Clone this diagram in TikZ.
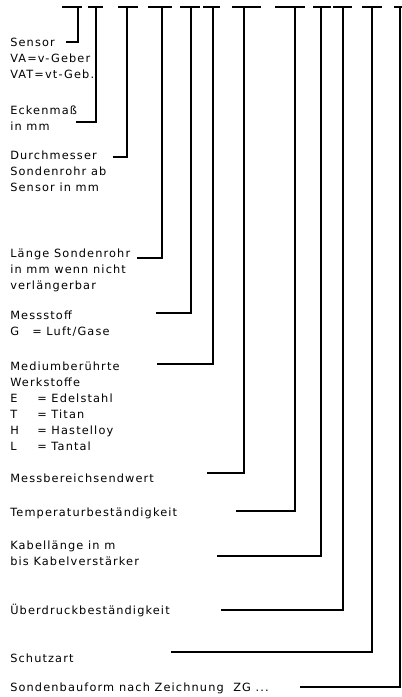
\documentclass[tikz,border=0pt]{standalone}
\usepackage{fontspec}
\setmainfont{DejaVu Sans}
\newfontfamily\lblfont[LetterSpace=10]{DejaVu Sans}
\begin{document}
\begin{tikzpicture}[x=0.75pt,y=-0.75pt,
  lbl/.style={anchor=base west,align=left,inner sep=0pt,font=\lblfont\fontsize{8.5}{12}\selectfont},
  lead/.style={line width=1.4pt}]
\useasboundingbox (0,0) rectangle (402,697);
\def\kw{\makebox[20.25pt][l]}
% labels (placed at the baseline of their last line)
\node[lbl] (sensor) at (10,78) {Sensor\\VA=v-Geber\\VAT=vt-Geb.};
\node[lbl] (ecke) at (10,130) {Eckenmaß\\in mm};
\node[lbl] (durchm) at (10,191) {Durchmesser\\Sondenrohr ab\\Sensor in mm};
\node[lbl] (laenge) at (10,289) {Länge Sondenrohr\\in mm wenn nicht\\verlängerbar};
\node[lbl] (stoff) at (10,335) {Messstoff\\\makebox[16.5pt][l]{G}= Luft/Gase};
\node[lbl] (werk) at (10,450) {Mediumberührte\\Werkstoffe\\\kw{E}= Edelstahl\\\kw{T}= Titan\\\kw{H}= Hastelloy\\\kw{L}= Tantal};
\node[lbl] (bereich) at (10,482) {Messbereichsendwert};
\node[lbl] (temp) at (10,516) {Temperaturbeständigkeit};
\node[lbl] (kabel) at (10,565) {Kabellänge in m\\bis Kabelverstärker};
\node[lbl] (druck) at (10,614) {Überdruckbeständigkeit};
\node[lbl] (schutz) at (10,662) {Schutzart};
\node[lbl] (bauform) at (10,691) {Sondenbauform nach Zeichnung\ \ ZG ...};
% top bars and leaders
\foreach \n/\s/\l/\r/\y/\x in {1/78/62/82/42/66, 2/96/88/103/122/76, 3/127/118/138/157/113,
  4/162/148/172/258/137, 5/191/180/200/313/156, 6/213/203/220/364/157,
  7/244/232/261/473/207, 8/295/275/305/511/236, 9/321/313/331/556/217,
  10/343/333/352/610/221, 11/372/362/382/652/171, 12/400/394/406/687/300}{
  \coordinate (top\n) at (\s,7);
  \coordinate (end\n) at (\x,\y);
  \draw[lead] (\l,7) -- (\r,7);
  \draw[lead] (end\n) -| (top\n);
}
\end{tikzpicture}
\end{document}
